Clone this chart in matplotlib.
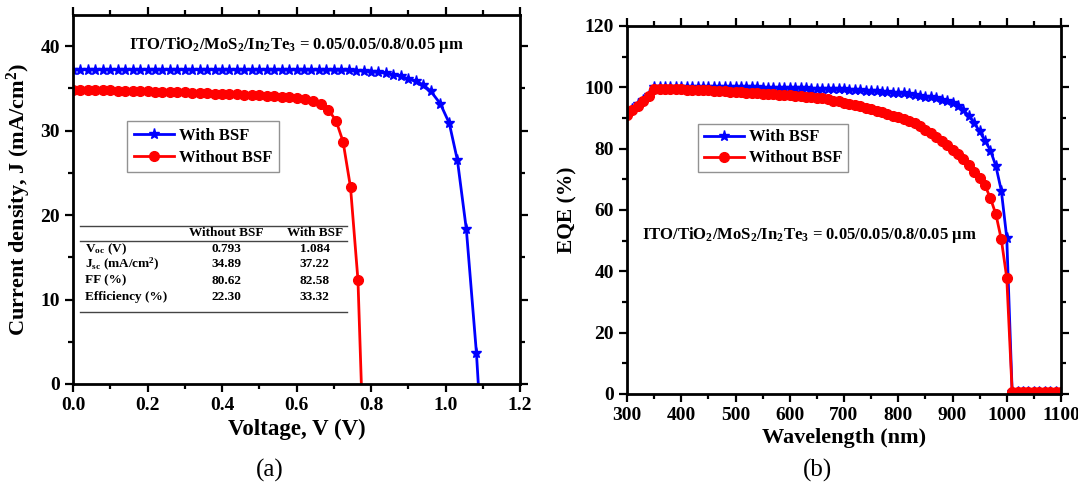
import matplotlib
matplotlib.use("Agg")
import matplotlib.pyplot as plt
from matplotlib.ticker import MultipleLocator

plt.rcParams['font.family'] = ['Liberation Serif', 'DejaVu Serif']
plt.rcParams['font.weight'] = 'bold'
plt.rcParams['mathtext.fontset'] = 'custom'
plt.rcParams['mathtext.rm'] = 'Liberation Serif:bold'
plt.rcParams['mathtext.it'] = 'Liberation Serif:bold'
plt.rcParams['mathtext.bf'] = 'Liberation Serif:bold'
plt.rcParams['mathtext.default'] = 'rm'

# J-V data (voltage in V, current density in mA/cm2)
v_with = [0.00, 0.02, 0.04, 0.06, 0.08, 0.10, 0.12, 0.14, 0.16, 0.18,
          0.20, 0.22, 0.24, 0.26, 0.28, 0.30, 0.32, 0.34, 0.36, 0.38,
          0.40, 0.42, 0.44, 0.46, 0.48, 0.50, 0.52, 0.54, 0.56, 0.58,
          0.60, 0.62, 0.64, 0.66, 0.68, 0.70, 0.72, 0.74, 0.76, 0.78,
          0.80, 0.82, 0.84, 0.86, 0.88, 0.90, 0.92, 0.94, 0.96, 0.986,
          1.010, 1.032, 1.056, 1.083, 1.099]
j_with = [37.22, 37.22, 37.22, 37.22, 37.22, 37.22, 37.22, 37.22, 37.22, 37.22,
          37.22, 37.22, 37.22, 37.22, 37.22, 37.22, 37.22, 37.22, 37.22, 37.22,
          37.21, 37.21, 37.21, 37.21, 37.21, 37.21, 37.21, 37.21, 37.20, 37.20,
          37.20, 37.20, 37.19, 37.19, 37.18, 37.17, 37.16, 37.14, 37.11, 37.06,
          37.00, 36.92, 36.80, 36.65, 36.42, 36.15, 35.85, 35.45, 34.70, 33.20,
          30.90, 26.50, 18.30, 3.70, -8.0]

v_without = [0.00, 0.02, 0.04, 0.06, 0.08, 0.10, 0.12, 0.14, 0.16, 0.18,
             0.20, 0.22, 0.24, 0.26, 0.28, 0.30, 0.32, 0.34, 0.36, 0.38,
             0.40, 0.42, 0.44, 0.46, 0.48, 0.50, 0.52, 0.54, 0.56, 0.579,
             0.601, 0.623, 0.645, 0.665, 0.685, 0.706, 0.725, 0.745, 0.765, 0.780]
j_without = [34.85, 34.84, 34.82, 34.81, 34.79, 34.77, 34.75, 34.73, 34.71, 34.69,
             34.67, 34.64, 34.62, 34.59, 34.56, 34.53, 34.50, 34.47, 34.44, 34.40,
             34.37, 34.33, 34.29, 34.25, 34.21, 34.17, 34.12, 34.07, 34.02, 34.00,
             33.90, 33.70, 33.50, 33.20, 32.50, 31.20, 28.70, 23.30, 12.30, -8.0]

# EQE data (wavelength in nm, EQE in %)
wl = [300, 310, 320, 330, 340, 350, 360, 370, 380, 390,
      400, 410, 420, 430, 440, 450, 460, 470, 480, 490,
      500, 510, 520, 530, 540, 550, 560, 570, 580, 590,
      600, 610, 620, 630, 640, 650, 660, 670, 680, 690,
      700, 710, 720, 730, 740, 750, 760, 770, 780, 790,
      800, 810, 820, 830, 840, 850, 860, 870, 880, 890,
      900, 910, 920, 930, 940, 950, 960, 970, 980, 990,
      1000, 1010, 1020, 1030, 1040, 1050, 1060, 1070, 1080, 1090, 1100]
eqe_with = [91.5, 93.0, 94.5, 96.0, 97.6, 100.1, 100.1, 100.1, 100.1, 100.1,
            100.1, 100.1, 100.1, 100.1, 100.1, 100.1, 100.1, 100.0, 100.0, 100.0,
            100.0, 100.0, 100.0, 100.0, 100.0, 99.9, 99.9, 99.9, 99.9, 99.8,
            99.8, 99.8, 99.7, 99.7, 99.6, 99.6, 99.5, 99.5, 99.4, 99.3,
            99.3, 99.2, 99.1, 99.0, 98.9, 98.8, 98.7, 98.6, 98.5, 98.3,
            98.2, 98.0, 97.8, 97.6, 97.3, 97.0, 96.7, 96.4, 96.0, 95.6,
            95.0, 94.0, 92.6, 90.8, 88.4, 85.6, 82.6, 79.4, 74.3, 66.3,
            51.0, 0.5, 0.5, 0.5, 0.5, 0.5, 0.5, 0.5, 0.5, 0.5, 0.5]
eqe_without = [91.0, 92.5, 94.0, 95.4, 97.2, 99.5, 99.5, 99.4, 99.4, 99.3,
               99.3, 99.2, 99.2, 99.1, 99.0, 99.0, 98.9, 98.8, 98.7, 98.6,
               98.5, 98.4, 98.3, 98.2, 98.0, 97.9, 97.8, 97.7, 97.6, 97.5,
               97.4, 97.2, 97.1, 96.9, 96.8, 96.6, 96.4, 96.1, 95.7, 95.4,
               95.0, 94.6, 94.2, 93.8, 93.3, 92.9, 92.4, 91.9, 91.4, 90.8,
               90.2, 89.6, 89.0, 88.3, 87.3, 86.2, 85.0, 83.8, 82.6, 81.2,
               79.7, 78.1, 76.6, 74.6, 72.5, 70.3, 68.0, 63.8, 58.6, 50.4,
               37.9, 0.5, 0.5, 0.5, 0.5, 0.5, 0.5, 0.5, 0.5, 0.5, 0.5]

# summary table
table_rows = ['V$_{oc}$ (V)', 'J$_{sc}$ (mA/cm$^{2}$)', 'FF (%)', 'Efficiency (%)']
table_without = ['0.793', '34.89', '80.62', '22.30']
table_with = ['1.084', '37.22', '82.58', '33.32']

stack_label = 'ITO/TiO$_{2}$/MoS$_{2}$/In$_{2}$Te$_{3}$ = 0.05/0.05/0.8/0.05 \u03bcm'

fig = plt.figure(figsize=(10.78, 4.99), dpi=100)
ax1 = fig.add_axes([73/1078, 115/499, 447/1078, 369/499])
ax2 = fig.add_axes([627/1078, 105/499, 434/1078, 368/499])


def style(ax):
    for s in ax.spines.values():
        s.set_linewidth(2)
    ax.tick_params(which='both', direction='out', top=True, right=True,
                   labeltop=False, labelright=False, width=1.6, labelsize=14)
    ax.tick_params(which='major', length=6)
    ax.tick_params(which='minor', length=3.5)


# (a) J-V
ax1.plot(v_with, j_with, color='#0000FF', lw=2, marker='*', ms=8, label='With BSF')
ax1.plot(v_without, j_without, color='#FF0000', lw=2, marker='o', ms=7, label='Without BSF')
ax1.set_xlim(0, 1.2)
ax1.set_ylim(0, 43.7)
ax1.xaxis.set_major_locator(MultipleLocator(0.2))
ax1.xaxis.set_minor_locator(MultipleLocator(0.1))
ax1.yaxis.set_major_locator(MultipleLocator(10))
ax1.yaxis.set_minor_locator(MultipleLocator(5))
ax1.xaxis.set_major_formatter(plt.FormatStrFormatter('%.1f'))
style(ax1)
ax1.set_xlabel('Voltage, V (V)', fontsize=16.5, fontweight='bold', labelpad=3)
ax1.set_ylabel('Current density, J (mA/cm$^{2}$)', fontsize=16, fontweight='bold', labelpad=5)
ax1.text(0.5, 0.918, stack_label, transform=ax1.transAxes, ha='center', va='center',
         fontsize=12, fontweight='bold')
leg1 = ax1.legend(loc='upper left', bbox_to_anchor=(0.121, 0.712), fontsize=12,
                  frameon=True, fancybox=False, edgecolor='#777777', borderpad=0.4,
                  handlelength=2.4, labelspacing=0.35, handletextpad=0.3, borderaxespad=0)
leg1.get_frame().set_linewidth(1)

# table inside panel (a)
line_x = [0.016, 0.613]
for yl in (0.428, 0.3885, 0.194):
    ax1.plot(line_x, [yl, yl], transform=ax1.transAxes, color='#444444', lw=1)
ax1.text(0.343, 0.409, 'Without BSF', transform=ax1.transAxes, ha='center', va='center',
         fontsize=9.5, fontweight='bold')
ax1.text(0.541, 0.409, 'With BSF', transform=ax1.transAxes, ha='center', va='center',
         fontsize=9.5, fontweight='bold')
row_y = [0.366, 0.324, 0.280, 0.236]
for lab, a, b, yy in zip(table_rows, table_without, table_with, row_y):
    ax1.text(0.027, yy, lab, transform=ax1.transAxes, ha='left', va='center',
             fontsize=9.5, fontweight='bold')
    ax1.text(0.343, yy, a, transform=ax1.transAxes, ha='center', va='center',
             fontsize=9.5, fontweight='bold')
    ax1.text(0.541, yy, b, transform=ax1.transAxes, ha='center', va='center',
             fontsize=9.5, fontweight='bold')

# (b) EQE
ax2.plot(wl, eqe_with, color='#0000FF', lw=2, marker='*', ms=8, label='With BSF')
ax2.plot(wl, eqe_without, color='#FF0000', lw=2, marker='o', ms=7, label='Without BSF')
ax2.set_xlim(300, 1100)
ax2.set_ylim(0, 120)
ax2.xaxis.set_major_locator(MultipleLocator(100))
ax2.xaxis.set_minor_locator(MultipleLocator(50))
ax2.yaxis.set_major_locator(MultipleLocator(20))
ax2.yaxis.set_minor_locator(MultipleLocator(10))
style(ax2)
ax2.set_xlabel('Wavelength (nm)', fontsize=16, fontweight='bold', labelpad=3)
ax2.set_ylabel('EQE (%)', fontsize=15.5, fontweight='bold', labelpad=5)
ax2.text(0.42, 0.432, stack_label, transform=ax2.transAxes, ha='center', va='center',
         fontsize=12, fontweight='bold')
leg2 = ax2.legend(loc='upper left', bbox_to_anchor=(0.164, 0.735), fontsize=12,
                  frameon=True, fancybox=False, edgecolor='#777777', borderpad=0.35,
                  handlelength=2.4, labelspacing=0.3, handletextpad=0.3, borderaxespad=0)
leg2.get_frame().set_linewidth(1)

fig.text(270/1078, 1 - 470/499, '(a)', ha='center', va='center', fontsize=18, fontweight='normal')
fig.text(818/1078, 1 - 470/499, '(b)', ha='center', va='center', fontsize=18, fontweight='normal')

fig.savefig('out.png', dpi=100, facecolor='white')
